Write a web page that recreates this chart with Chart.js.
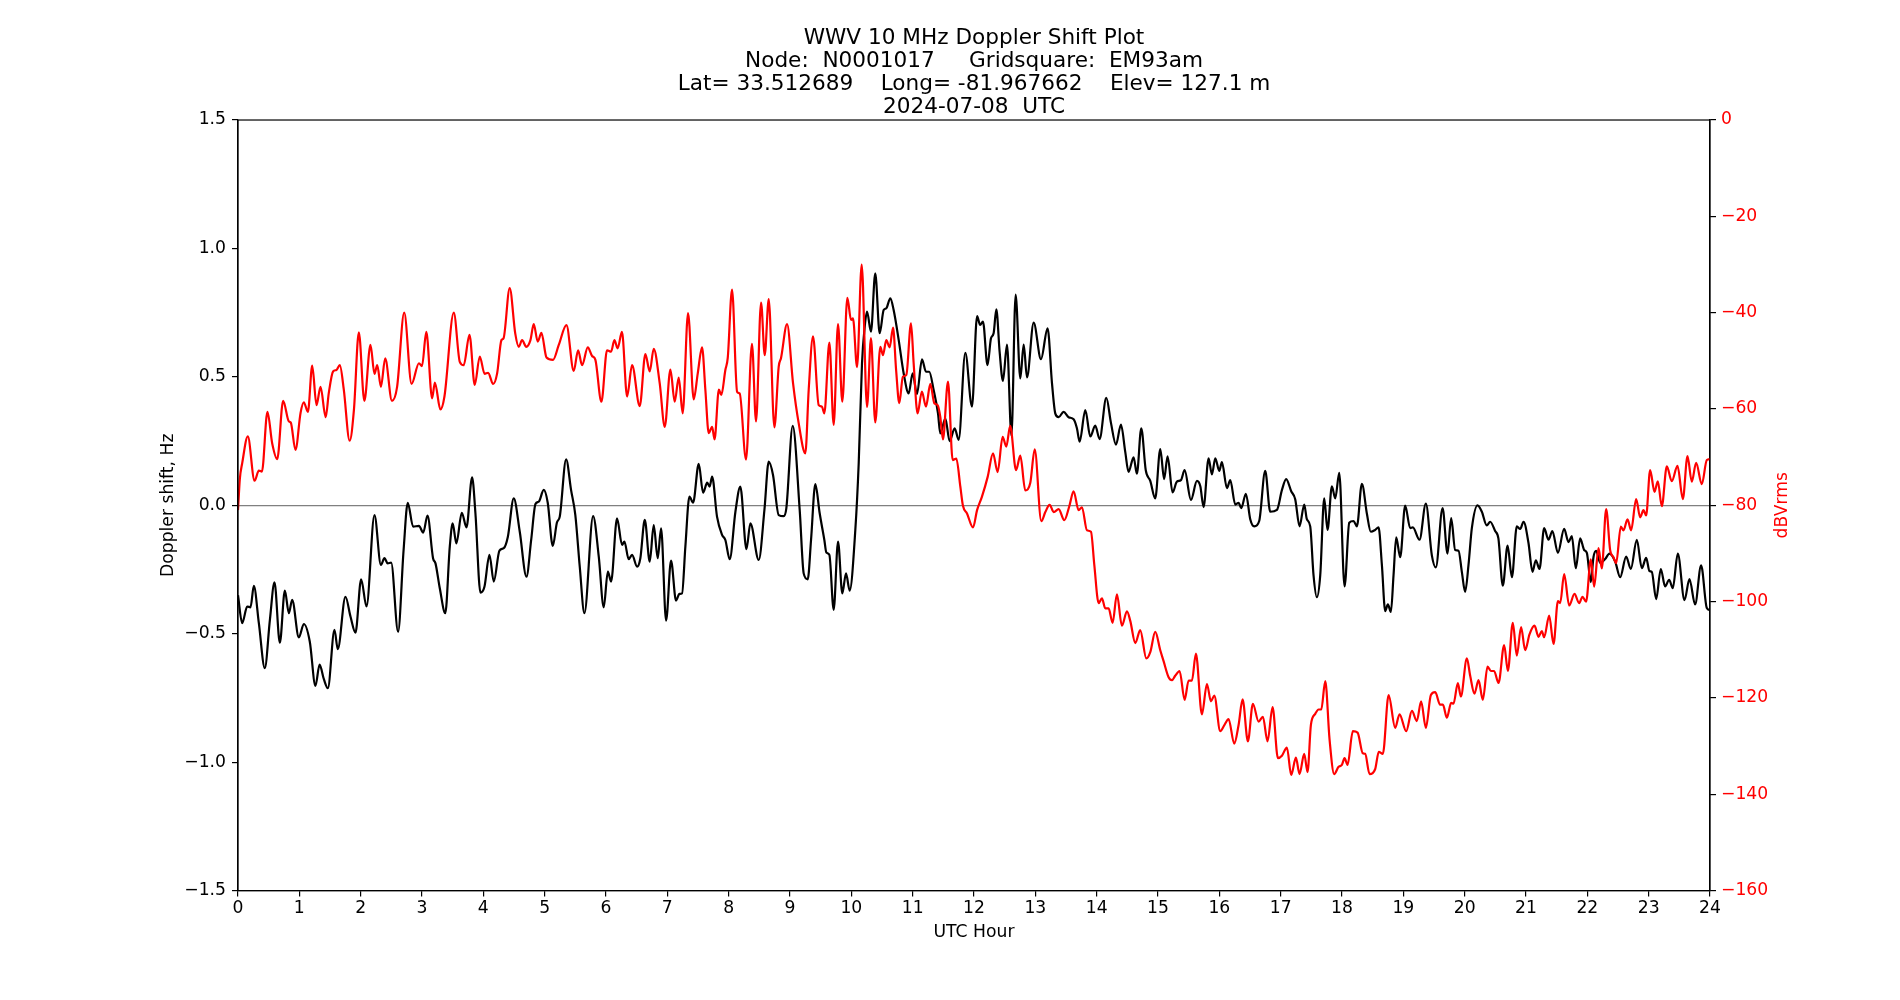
<!DOCTYPE html>
<html>
<head>
<meta charset="utf-8">
<title>WWV 10 MHz Doppler Shift Plot</title>
<script src="https://cdn.jsdelivr.net/npm/chart.js@4.4.1/dist/chart.umd.min.js"></script>
<style>
  html, body { margin: 0; padding: 0; background: #fff; }
  #wrap { width: 1900px; height: 1000px; }
</style>
</head>
<body>
<div id="wrap"><canvas id="chart" width="1900" height="1000"></canvas></div>
<script>
// ------------------------------------------------------------
// Data
// ------------------------------------------------------------
const titleLines = [
  "WWV 10 MHz Doppler Shift Plot",
  "Node:  N0001017     Gridsquare:  EM93am",
  "Lat= 33.512689    Long= -81.967662    Elev= 127.1 m",
  "2024-07-08  UTC"
];

const hourTicks = ["0","1","2","3","4","5","6","7","8","9","10","11","12",
  "13","14","15","16","17","18","19","20","21","22","23","24"];
const dopplerTicks = ["\u22121.5","\u22121.0","\u22120.5","0.0","0.5","1.0","1.5"];
const dbTicks = ["\u2212160","\u2212140","\u2212120","\u2212100","\u221280","\u221260","\u221240","\u221220","0"];

// Doppler shift (Hz), black, left axis
const dopplerHours = [
  0.0, 0.068, 0.15, 0.204, 0.258, 0.34, 0.437, 0.52, 0.595, 0.682, 0.764, 0.829, 0.883, 0.992,
  1.073, 1.17, 1.263, 1.33, 1.40, 1.465, 1.573, 1.627, 1.752, 1.834, 1.915, 2.008, 2.095, 2.225,
  2.33, 2.388, 2.44, 2.497, 2.61, 2.70, 2.768, 2.855, 2.95, 3.02, 3.09, 3.18, 3.22, 3.29, 3.38,
  3.453, 3.50, 3.56, 3.649, 3.725, 3.817, 3.871, 3.953, 4.018, 4.10, 4.17, 4.263, 4.333, 4.40,
  4.496, 4.594, 4.703, 4.78, 4.85, 4.904, 4.985, 5.05, 5.132, 5.20, 5.246, 5.35, 5.43, 5.50,
  5.572, 5.648, 5.79, 5.882, 5.963, 6.03, 6.083, 6.18, 6.262, 6.30, 6.37, 6.425, 6.507, 6.56,
  6.632, 6.713, 6.778, 6.843, 6.898, 6.98, 7.06, 7.142, 7.197, 7.24, 7.294, 7.36, 7.42, 7.512,
  7.583, 7.65, 7.69, 7.73, 7.81, 7.892, 7.946, 8.017, 8.11, 8.19, 8.29, 8.354, 8.49, 8.583,
  8.653, 8.723, 8.816, 8.897, 8.94, 9.044, 9.158, 9.223, 9.289, 9.343, 9.413, 9.484, 9.56,
  9.593, 9.642, 9.712, 9.783, 9.853, 9.913, 9.973, 10.065, 10.12, 10.174, 10.218, 10.256,
  10.32, 10.39, 10.462, 10.527, 10.57, 10.636, 10.69, 10.772, 10.853, 10.935, 11.0, 11.07,
  11.152, 11.217, 11.27, 11.342, 11.413, 11.45, 11.533, 11.603, 11.685, 11.75, 11.858, 11.967,
  12.05, 12.10, 12.146, 12.22, 12.277, 12.32, 12.364, 12.418, 12.472, 12.538, 12.61, 12.679,
  12.755, 12.81, 12.864, 12.973, 13.092, 13.2, 13.271, 13.326, 13.38, 13.461, 13.543, 13.624,
  13.678, 13.722, 13.815, 13.896, 13.977, 14.048, 14.157, 14.233, 14.315, 14.396, 14.466,
  14.52, 14.602, 14.656, 14.727, 14.8, 14.874, 14.955, 15.037, 15.1, 15.156, 15.238, 15.308,
  15.374, 15.434, 15.537, 15.635, 15.69, 15.743, 15.825, 15.879, 15.934, 15.999, 16.042,
  16.124, 16.178, 16.26, 16.314, 16.357, 16.433, 16.504, 16.569, 16.65, 16.748, 16.83, 16.939,
  17.02, 17.09, 17.172, 17.237, 17.308, 17.384, 17.427, 17.482, 17.536, 17.59, 17.645, 17.71,
  17.764, 17.835, 17.89, 17.955, 18.042, 18.118, 18.188, 18.243, 18.324, 18.406, 18.47, 18.54,
  18.596, 18.65, 18.705, 18.748, 18.797, 18.84, 18.884, 18.949, 19.03, 19.112, 19.155, 19.264,
  19.367, 19.465, 19.53, 19.64, 19.72, 19.78, 19.845, 19.9, 19.954, 20.008, 20.063, 20.117,
  20.21, 20.28, 20.36, 20.416, 20.497, 20.55, 20.622, 20.7, 20.77, 20.85, 20.905, 20.96, 21.04,
  21.106, 21.16, 21.22, 21.296, 21.367, 21.43, 21.52, 21.622, 21.693, 21.747, 21.812, 21.883,
  21.948, 21.992, 22.057, 22.1, 22.144, 22.209, 22.29, 22.361, 22.454, 22.535, 22.633, 22.709,
  22.807, 22.888, 22.959, 23.013, 23.051, 23.122, 23.198, 23.268, 23.334, 23.393, 23.475,
  23.584, 23.665, 23.757, 23.855, 23.948, 24.0
];
const dopplerHz = [
  -0.35, -0.459, -0.394, -0.397, -0.314, -0.459, -0.634, -0.446, -0.30, -0.535, -0.332, -0.42, -0.368, -0.514,
  -0.462, -0.53, -0.703, -0.62, -0.677, -0.712, -0.485, -0.56, -0.356, -0.433, -0.496, -0.288, -0.394, -0.038,
  -0.232, -0.206, -0.226, -0.223, -0.492, -0.174, 0.01, -0.083, -0.08, -0.106, -0.04, -0.206, -0.226, -0.323, -0.42,
  -0.161, -0.07, -0.148, -0.029, -0.086, 0.109, -0.031, -0.34, -0.317, -0.193, -0.297, -0.176, -0.167, -0.122,
  0.027, -0.103, -0.278, -0.135, 0.005, 0.014, 0.06, 0.01, -0.158, -0.067, -0.044, 0.179, 0.06, -0.038,
  -0.239, -0.42, -0.042, -0.2, -0.397, -0.258, -0.297, -0.051, -0.154, -0.141, -0.21, -0.193, -0.239, -0.206,
  -0.057, -0.219, -0.077, -0.206, -0.09, -0.449, -0.215, -0.371, -0.345, -0.343, -0.161, 0.034, 0.01, 0.161,
  0.049, 0.088, 0.073, 0.112, -0.044, -0.115, -0.135, -0.21, -0.025, 0.073, -0.171, -0.07, -0.213, -0.018,
  0.17, 0.118, -0.038, -0.042, -0.012, 0.309, -0.018, -0.265, -0.288, -0.135, 0.083, -0.031, -0.135,
  -0.184, -0.193, -0.407, -0.141, -0.343, -0.265, -0.332, -0.096, 0.163, 0.553, 0.695, 0.754,
  0.676, 0.903, 0.67, 0.76, 0.767, 0.806, 0.76, 0.644, 0.514, 0.436, 0.514, 0.433,
  0.568, 0.52, 0.52, 0.449, 0.358, 0.28, 0.338, 0.25, 0.3, 0.255, 0.594, 0.384,
  0.737, 0.702, 0.715, 0.546, 0.65, 0.67, 0.763, 0.597, 0.484, 0.626, 0.272, 0.82,
  0.494, 0.626, 0.498, 0.711, 0.569, 0.689, 0.477, 0.357, 0.343, 0.364, 0.343, 0.335,
  0.3, 0.248, 0.371, 0.268, 0.31, 0.258, 0.418, 0.321, 0.236, 0.314, 0.208,
  0.13, 0.187, 0.123, 0.3, 0.137, 0.095, 0.027, 0.219, 0.102, 0.191, 0.05, 0.092,
  0.098, 0.137, 0.021, 0.095, 0.074, -0.007, 0.183, 0.12, 0.183, 0.134, 0.168,
  0.067, 0.098, 0.003, 0.01, -0.011, 0.045, -0.054, -0.082, -0.061, 0.134, -0.025, -0.018,
  0.059, 0.102, 0.055, 0.024, -0.082, 0.003, -0.054, -0.082, -0.273, -0.358, -0.273, 0.027,
  -0.096, 0.074, 0.027, 0.126, -0.316, -0.068, -0.061, -0.082, 0.084, -0.033, -0.103, -0.096,
  -0.086, -0.231, -0.412, -0.386, -0.415, -0.273, -0.125, -0.202, -0.001, -0.089, -0.086, -0.134,
  0.007, -0.195, -0.242, -0.011, -0.188, -0.05, -0.174, -0.177, -0.259, -0.337, -0.231, -0.089,
  0.0, -0.025, -0.078, -0.064, -0.1, -0.129, -0.313, -0.157, -0.28, -0.082, -0.092, -0.064, -0.146,
  -0.259, -0.214, -0.248, -0.089, -0.134, -0.1, -0.185, -0.092, -0.143, -0.12, -0.245, -0.129,
  -0.174, -0.185, -0.299, -0.202, -0.177, -0.224, -0.209, -0.188, -0.219, -0.28, -0.2, -0.248,
  -0.134, -0.245, -0.205, -0.256, -0.259, -0.365, -0.248, -0.316, -0.29, -0.323, -0.188,
  -0.369, -0.287, -0.386, -0.234, -0.4, -0.408
];

// Signal level (dBVrms), red, right axis
const signalHours = [
  0.0, 0.03, 0.068, 0.16, 0.27, 0.34, 0.39, 0.48, 0.557, 0.64, 0.736, 0.83, 0.86, 0.937, 1.02,
  1.073, 1.14, 1.21, 1.28, 1.345, 1.43, 1.48, 1.55, 1.606, 1.66, 1.725, 1.82, 1.89, 1.97, 2.06,
  2.16, 2.225, 2.27, 2.33, 2.40, 2.51, 2.594, 2.71, 2.83, 2.95, 3.0, 3.07, 3.165, 3.21, 3.30,
  3.366, 3.518, 3.616, 3.68, 3.774, 3.86, 3.942, 4.02, 4.078, 4.16, 4.225, 4.295, 4.33, 4.43,
  4.52, 4.578, 4.632, 4.70, 4.768, 4.822, 4.887, 4.947, 5.03, 5.137, 5.23, 5.355, 5.474, 5.545,
  5.61, 5.703, 5.773, 5.827, 5.925, 6.017, 6.083, 6.137, 6.19, 6.26, 6.344, 6.425, 6.55, 6.642,
  6.713, 6.778, 6.876, 6.958, 7.05, 7.12, 7.186, 7.25, 7.338, 7.43, 7.496, 7.566, 7.62, 7.675,
  7.73, 7.77, 7.84, 7.88, 7.946, 7.985, 8.055, 8.137, 8.18, 8.283, 8.38, 8.446, 8.528, 8.588,
  8.653, 8.745, 8.816, 8.854, 8.952, 9.05, 9.142, 9.25, 9.305, 9.375, 9.468, 9.52, 9.56, 9.642,
  9.712, 9.783, 9.853, 9.935, 9.995, 10.027, 10.093, 10.169, 10.256, 10.32, 10.39, 10.473,
  10.516, 10.57, 10.625, 10.68, 10.73, 10.782, 10.84, 10.897, 10.973, 11.016, 11.08, 11.15,
  11.217, 11.288, 11.353, 11.407, 11.45, 11.494, 11.576, 11.652, 11.712, 11.777, 11.82, 11.886,
  11.984, 12.05, 12.13, 12.223, 12.31, 12.385, 12.467, 12.527, 12.59, 12.685, 12.755, 12.836,
  12.918, 12.99, 13.097, 13.163, 13.233, 13.3, 13.38, 13.472, 13.554, 13.624, 13.706, 13.76,
  13.842, 13.907, 13.961, 14.032, 14.086, 14.14, 14.195, 14.26, 14.33, 14.412, 14.494, 14.548,
  14.63, 14.71, 14.81, 14.874, 14.955, 15.037, 15.09, 15.173, 15.227, 15.28, 15.352, 15.434,
  15.499, 15.553, 15.618, 15.716, 15.798, 15.863, 15.918, 16.015, 16.08, 16.151, 16.243, 16.314,
  16.379, 16.466, 16.547, 16.64, 16.71, 16.786, 16.868, 16.955, 17.02, 17.102, 17.172, 17.248,
  17.308, 17.384, 17.438, 17.493, 17.564, 17.618, 17.662, 17.727, 17.797, 17.873, 17.944,
  17.998, 18.042, 18.09, 18.177, 18.254, 18.34, 18.378, 18.449, 18.54, 18.6, 18.666, 18.76,
  18.867, 18.938, 19.047, 19.14, 19.22, 19.29, 19.367, 19.449, 19.52, 19.6, 19.645, 19.71, 19.78,
  19.818, 19.889, 19.938, 20.036, 20.09, 20.16, 20.226, 20.296, 20.373, 20.427, 20.48, 20.552,
  20.644, 20.704, 20.785, 20.85, 20.92, 20.986, 21.057, 21.139, 21.204, 21.258, 21.296, 21.378,
  21.449, 21.52, 21.557, 21.622, 21.704, 21.79, 21.867, 21.921, 21.98, 22.057, 22.111, 22.182,
  22.236, 22.307, 22.372, 22.426, 22.47, 22.546, 22.59, 22.655, 22.714, 22.796, 22.861, 22.915,
  22.959, 23.024, 23.095, 23.149, 23.214, 23.296, 23.377, 23.47, 23.557, 23.633, 23.703, 23.774,
  23.866, 23.948, 24.0
];
const signalDb = [
  -81, -74.5, -71.3, -65.7, -74.9, -72.8, -73, -60.6, -67.1, -70.4, -58.3, -62.6, -62.8, -68.5, -60.8,
  -58.6, -60.6, -51, -59.2, -55.4, -61.7, -56.7, -52.2, -51.9, -50.9, -56, -66.6, -60.2, -44.1, -58.3,
  -46.7, -52.7, -50.9, -55.4, -49.5, -58.3, -55.4, -40, -54.8, -50.5, -51.1, -44, -57.8, -54.5, -60.1,
  -57.4, -40, -50.2, -50.9, -44.6, -55, -49.1, -52.7, -52.5, -54.8, -52.6, -45.7, -45.3, -34.9,
  -44.3, -47.1, -45.7, -47.1, -45.7, -42.4, -46, -44.2, -49.3, -49.8, -46.7, -42.6, -52.1, -47.8,
  -50.9, -47.2, -49, -49.8, -58.5, -47.8, -48.1, -45.7, -47.4, -44, -57.4, -50.9, -59.4, -48.6,
  -52.2, -47.5, -54.7, -63.7, -51.8, -58.5, -53.5, -60.9, -40.1, -58, -52.6, -47.2, -56, -65,
  -63.7, -66.3, -56, -57.1, -51.9, -49.4, -35.2, -56.4, -56.8, -70.5, -46.5, -62.6, -37.9, -48.8,
  -37.2, -63.8, -51.2, -49.4, -42.4, -54.7, -63, -69.2, -56, -44.9, -59.2, -59.5, -60.9, -46.2,
  -63.3, -42.4, -58.5, -36.9, -41.5, -41.2, -51.3, -30, -59.6, -45.3, -62.8, -47.1,
  -48.8, -45.7, -47.2, -43.1, -51.9, -58.8, -53.3, -52.9, -42.2, -50.5, -60.9, -56.4,
  -59.5, -54.8, -58.8, -59.2, -61.6, -66.3, -54.3, -70.6, -70.3, -76.1, -80.1, -81.7,
  -84.6, -81, -78.2, -74.1, -69.2, -73.1, -65.8, -67.8, -63.5, -72.7, -69.7, -76.9,
  -75.3, -68.4, -83.3, -81.4, -79.9, -81.4, -80.8, -83.1, -80.2, -77.1, -81, -80.4,
  -85.2, -85.5, -92.3, -100.3, -99.3, -101.4, -101.4, -104.4, -98.5, -105, -102, -104,
  -108.6, -105.9, -111.8, -110.5, -106.3, -110.1, -112.3, -115.7, -116.3, -115.4, -114.4, -120.4,
  -116.4, -116.4, -110.8, -123.4, -117.1, -120.7, -119.5, -126.9, -125.7, -124.4, -129.5, -125.6,
  -120.3, -129, -121.2, -124.9, -123.9, -129, -121.9, -132.5, -132, -130.3, -136, -132.4,
  -135.8, -131.6, -135.4, -125.6, -123.3, -122.4, -122.4, -116.5, -128.6, -135.8, -134.3,
  -133.9, -132.5, -133.9, -126.9, -127.2, -131.5, -131.6, -135.8, -134.8, -131.2, -131.6, -119.4,
  -126.2, -123.4, -126.9, -122.7, -124.8, -120.7, -126.2, -119.4, -118.8, -121.4, -121.4, -124.1, -121,
  -121.2, -116.9, -119.7, -111.8, -115.4, -119.1, -116.3, -120.4, -113.5, -114.4, -114.4, -116.9,
  -109, -114.4, -104.4, -111.2, -105.3, -110.1, -106.8, -105, -107.3, -106.1, -107.4, -102.9,
  -108.8, -99.9, -100.3, -94.3, -100.8, -98.4, -100.3, -99, -100, -91.2, -96.9, -88.9,
  -93.1, -80.8, -89.3, -90.8, -92, -84.4, -85.2, -82.9, -85.2, -78.7, -82.5, -81,
  -82.1, -72.7, -77.2, -75, -80.2, -71.9, -75, -71.8, -78.7, -69.8, -75.1, -71.2,
  -75.6, -70.6, -70.4
];

// ------------------------------------------------------------
// Helpers
// ------------------------------------------------------------
const FONT = "'DejaVu Sans', 'Liberation Sans', sans-serif";
const toPoints = (xs, ys) => xs.map((x, i) => ({ x, y: ys[i] }));

// box around the plot (matplotlib spines) + right-hand label reading bottom-up
const framePlugin = {
  id: "frame",
  afterDraw(chart) {
    const { ctx, chartArea: a } = chart;
    ctx.save();
    ctx.strokeStyle = "#000";
    ctx.lineWidth = 1.2;
    ctx.strokeRect(a.left, a.top, a.right - a.left, a.bottom - a.top);

    ctx.translate(a.right + 72.7, (a.top + a.bottom) / 2);
    ctx.rotate(-Math.PI / 2);
    ctx.fillStyle = "#ff0000";
    ctx.font = `17.2px ${FONT}`;
    ctx.textAlign = "center";
    ctx.textBaseline = "middle";
    ctx.fillText("dBVrms", 0, 0);
    ctx.restore();
  }
};

// ------------------------------------------------------------
// Chart
// ------------------------------------------------------------
const tickFont = { family: FONT, size: 17.2 };

new Chart(document.getElementById("chart"), {
  type: "line",
  data: {
    datasets: [
      {
        label: "dBVrms",
        data: toPoints(signalHours, signalDb),
        yAxisID: "yDb",
        borderColor: "#ff0000",
        borderWidth: 2.2,
        pointRadius: 0,
        cubicInterpolationMode: "monotone",
        order: 1
      },
      {
        label: "Doppler shift",
        data: toPoints(dopplerHours, dopplerHz),
        yAxisID: "yHz",
        borderColor: "#000000",
        borderWidth: 2.2,
        pointRadius: 0,
        cubicInterpolationMode: "monotone",
        order: 2
      }
    ]
  },
  options: {
    responsive: false,
    animation: false,
    devicePixelRatio: 1,
    events: [],
    // left/right padding chosen so the title centres over the plot area
    layout: { padding: { left: 154.4, right: 106.4, top: 0, bottom: 52.7 } },
    plugins: {
      legend: { display: false },
      tooltip: { enabled: false },
      title: {
        display: true,
        text: titleLines,
        color: "#000",
        font: { family: FONT, size: 21.6, weight: "normal", lineHeight: 1.065 },
        padding: { top: 26.7, bottom: 1.3 }
      }
    },
    scales: {
      x: {
        type: "linear",
        position: "bottom",
        min: 0,
        max: 24,
        ticks: {
          stepSize: 1, autoSkip: false, maxRotation: 0, color: "#000",
          font: tickFont, padding: 2,
          callback: (v, i) => hourTicks[i]
        },
        grid: { drawOnChartArea: false, tickLength: 6, color: "#000", lineWidth: 1.2 },
        border: { color: "#000", width: 1.2 },
        title: { display: true, text: "UTC Hour", color: "#000", font: tickFont },
        afterFit: (s) => { s.height = 56.7; }
      },
      yHz: {
        type: "linear",
        position: "left",
        min: -1.5,
        max: 1.5,
        ticks: {
          stepSize: 0.5, color: "#000", font: tickFont, padding: 6,
          callback: (v, i) => dopplerTicks[i]
        },
        grid: {
          drawOnChartArea: true,
          tickLength: 6,
          color: (c) => (c.tick && c.tick.value === 0) ? "#808080" : "rgba(0,0,0,0)",
          lineWidth: 1.2,
          tickColor: "#000",
          tickWidth: 1.2
        },
        border: { color: "#000", width: 1.2 },
        title: { display: true, text: "Doppler shift, Hz", color: "#000", font: tickFont },
        afterFit: (s) => { s.width = 83.6; }
      },
      yDb: {
        type: "linear",
        position: "right",
        min: -160,
        max: 0,
        ticks: {
          stepSize: 20, color: "#ff0000", font: tickFont, padding: 5,
          callback: (v, i) => dbTicks[i]
        },
        grid: { drawOnChartArea: false, tickLength: 6, color: "#000", lineWidth: 1.2 },
        border: { color: "#000", width: 1.2 },
        afterFit: (s) => { s.width = 83.6; }
      }
    }
  },
  plugins: [framePlugin]
});
</script>
</body>
</html>
